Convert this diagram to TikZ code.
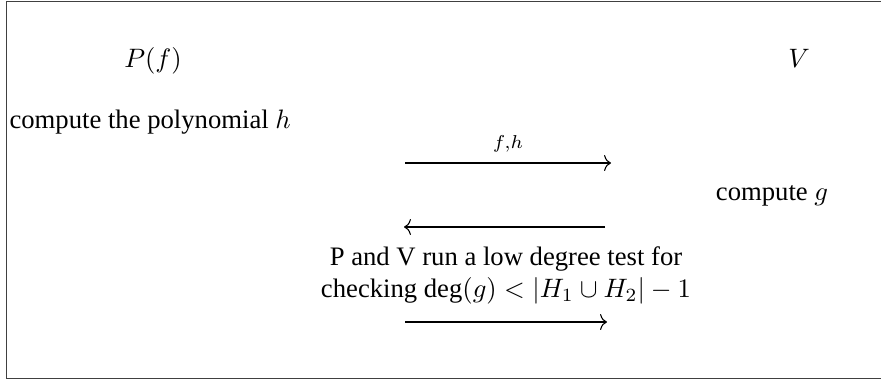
\documentclass[tikz,border=0pt]{standalone}
\usepackage{fontspec}
\setmainfont{Liberation Serif}
\usetikzlibrary{arrows.meta}
\begin{document}
\begin{tikzpicture}[x=0.375pt,y=-0.375pt,
  lbl/.style={inner sep=0pt, font=\fontsize{10}{12}\selectfont},
  msg/.style={-{To[length=2.6pt,width=6pt]}, line width=0.4pt},
  frame/.style={line width=0.5pt, draw=black!75}]
\useasboundingbox (0,0) rectangle (881,380);
\draw[frame] (882,1.5) -- (6.5,1.5) -- (6.5,378.5) -- (882,378.5);
\node[lbl] (P) at (153,61) {$P(f)$};
\node[lbl] (V) at (799,58) {$V$};
\node[lbl, anchor=west] (ch) at (9,122) {compute the polynomial $h$};
\node[lbl] (cg) at (772,196) {compute $g$};
\node[lbl, align=center] (ld) at (506,275) {P and V run a low degree test for\\checking $\deg(g) < |H_1 \cup H_2| - 1$};
\coordinate (a1s) at (405,163);
\coordinate (a1e) at (611,163);
\coordinate (a2s) at (605,227);
\coordinate (a2e) at (404,227);
\coordinate (a3s) at (405,322);
\coordinate (a3e) at (607,322);
\draw[msg] (a1s) -- node[lbl, above=4pt] (fh) {$\scriptstyle f,h$} (a1e);
\draw[msg] (a2s) -- (a2e);
\draw[msg] (a3s) -- (a3e);
\end{tikzpicture}
\end{document}
